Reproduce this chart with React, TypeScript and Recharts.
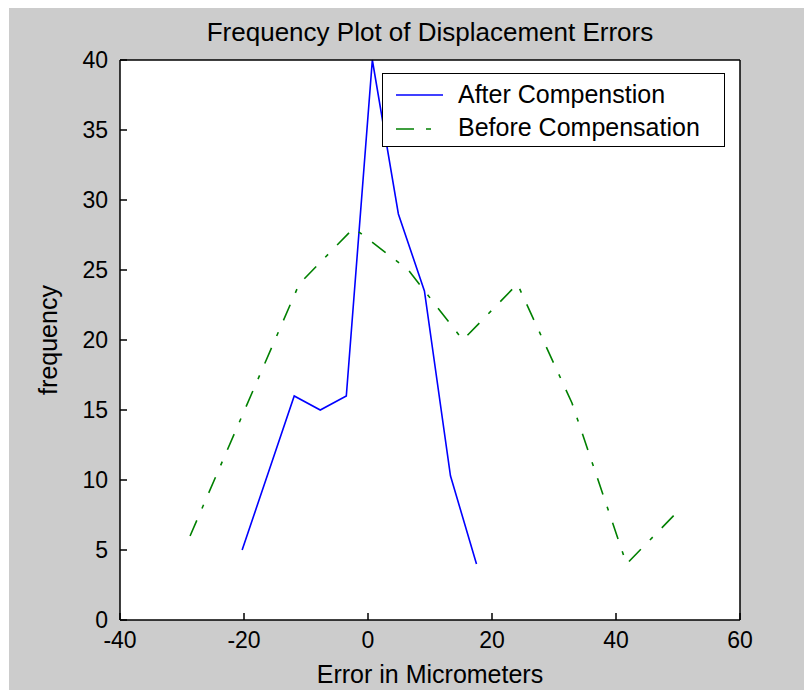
import { LineChart, Line, XAxis, YAxis, CartesianGrid } from 'recharts'

// histogram bin centres (micrometres) and counts
const afterX = [-20.3, -16.1, -11.9, -7.7, -3.5, 0.7, 4.9, 9.1, 13.3, 17.5]
const afterY = [5, 10.5, 16, 15, 16, 40, 29, 23.5, 10.3, 4]
const beforeX = [-28.7, -19.9, -11.1, -2.3, 6.5, 15.3, 24.1, 32.9, 41.7, 50.5]
const beforeY = [6, 15, 24, 28, 25, 20, 24, 15.5, 4, 8]

const xTicks = [-40, -20, 0, 20, 40, 60]
const yTicks = [0, 5, 10, 15, 20, 25, 30, 35, 40]

const seriesNames = ['After Compenstion', 'Before Compensation']
const FONT = "'Liberation Sans', Arial, sans-serif"
const BLUE = '#0000ff'
const GREEN = '#008000'
const DASH = '17 13 4 13'

const afterData = afterX.map((x, i) => ({ x, y: afterY[i] }))
const beforeData = beforeX.map((x, i) => ({ x, y: beforeY[i] }))

const tickStyle = { fontSize: 23, fill: '#000', fontFamily: FONT }

export default function App() {
  return (
    <div style={{ position: 'relative', width: 797, height: 682, marginLeft: 1, background: '#cccccc', fontFamily: FONT }}>
      <div
        style={{
          position: 'absolute',
          left: 0,
          width: 842,
          top: 11,
          textAlign: 'center',
          fontSize: 26,
          lineHeight: '27px',
          color: '#000',
        }}
      >
        Frequency Plot of Displacement Errors
      </div>
      <LineChart width={797} height={682} margin={{ top: 42, right: 56, bottom: 0, left: 0 }}>
        <CartesianGrid horizontal={false} vertical={false} fill="#ffffff" />
        <XAxis
          xAxisId="b"
          type="number"
          dataKey="x"
          domain={[-40, 60]}
          ticks={xTicks}
          interval={0}
          height={70}
          tickSize={-7}
          tickMargin={19}
          axisLine={{ stroke: '#000', strokeWidth: 1.5 }}
          tickLine={{ stroke: '#000', strokeWidth: 1.5 }}
          tick={tickStyle}
          label={{ value: 'Error in Micrometers', position: 'insideBottom', offset: 7, fontSize: 25, fill: '#000', fontFamily: FONT }}
        />
        <XAxis
          xAxisId="t"
          orientation="top"
          type="number"
          dataKey="x"
          domain={[-40, 60]}
          ticks={xTicks}
          interval={0}
          height={10}
          tickSize={-7}
          axisLine={{ stroke: '#000', strokeWidth: 1.5 }}
          tickLine={{ stroke: '#000', strokeWidth: 1.5 }}
          tick={false}
        />
        <YAxis
          yAxisId="l"
          type="number"
          domain={[0, 40]}
          ticks={yTicks}
          interval={0}
          width={111}
          tickSize={-7}
          tickMargin={19}
          axisLine={{ stroke: '#000', strokeWidth: 1.5 }}
          tickLine={{ stroke: '#000', strokeWidth: 1.5 }}
          tick={tickStyle}
          label={{
            value: 'frequency',
            angle: -90,
            position: 'insideLeft',
            offset: 39,
            fontSize: 25,
            fill: '#000',
            fontFamily: FONT,
            style: { textAnchor: 'middle' },
          }}
        />
        <YAxis
          yAxisId="r"
          orientation="right"
          type="number"
          domain={[0, 40]}
          ticks={yTicks}
          interval={0}
          width={10}
          tickSize={-7}
          axisLine={{ stroke: '#000', strokeWidth: 1.5 }}
          tickLine={{ stroke: '#000', strokeWidth: 1.5 }}
          tick={false}
        />
        <Line
          xAxisId="b"
          yAxisId="l"
          data={afterData}
          dataKey="y"
          name={seriesNames[0]}
          stroke={BLUE}
          strokeWidth={1.6}
          dot={false}
          isAnimationActive={false}
        />
        <Line
          xAxisId="b"
          yAxisId="l"
          data={beforeData}
          dataKey="y"
          name={seriesNames[1]}
          stroke={GREEN}
          strokeWidth={1.6}
          strokeDasharray={DASH}
          dot={false}
          isAnimationActive={false}
        />
      </LineChart>
      <div
        style={{
          position: 'absolute',
          left: 373,
          top: 65,
          width: 341,
          height: 72,
          border: '1.5px solid #000',
          background: '#fff',
        }}
      >
        <svg width={70} height={72} style={{ position: 'absolute', left: 0, top: 0 }}>
          <line x1={13} x2={60} y1={21} y2={21} stroke={BLUE} strokeWidth={1.6} />
          <line x1={13} x2={60} y1={55} y2={55} stroke={GREEN} strokeWidth={1.6} strokeDasharray="18 12 5 20" />
        </svg>
        {seriesNames.map((n, i) => (
          <div
            key={n}
            style={{ position: 'absolute', left: 75, top: 6 + i * 33, fontSize: 25, lineHeight: '28px', color: '#000', whiteSpace: 'nowrap' }}
          >
            {n}
          </div>
        ))}
      </div>
    </div>
  )
}
